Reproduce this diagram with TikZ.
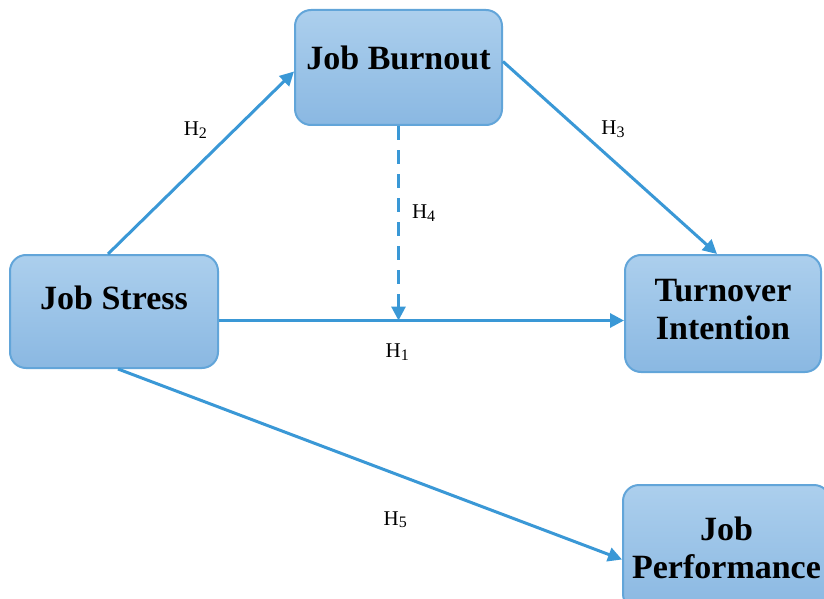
\documentclass[tikz,border=0pt]{standalone}
\usepackage{fontspec}
\setmainfont{Liberation Serif}
\usepackage{xcolor}
\usepackage{tikz}
\usetikzlibrary{arrows.meta}

\definecolor{boxtop}{RGB}{172,207,237}
\definecolor{boxbot}{RGB}{138,184,226}
\definecolor{boxline}{RGB}{98,165,217}
\definecolor{arrowblue}{RGB}{58,152,214}

\newcommand{\boxfont}{\fontsize{17}{19}\selectfont\bfseries}
\newcommand{\hypfont}{\fontsize{10.5}{12}\selectfont}
\newcommand{\hyp}[1]{H\raisebox{-0.3ex}{\fontsize{8}{9}\selectfont #1}}

\begin{document}
\begin{tikzpicture}[
        x=0.5pt, y=-0.5pt,
        box/.style={rectangle, draw=boxline, line width=1pt, rounded corners=8pt,
                     top color=boxtop, bottom color=boxbot, inner sep=0pt,
                     align=center, font=\boxfont, text=black},
        arrow/.style={-{Triangle[length=7pt, width=7pt]}, line width=1.5pt, draw=arrowblue},
        hyp/.style={font=\hypfont, text=black, inner sep=1pt}
    ]
        \useasboundingbox (0,0) rectangle (824,599);

        % Nodes
        \node[box, minimum width=103.5pt, minimum height=57.5pt, text depth=10pt]
            (burnout) at (398.5,67.5) {Job Burnout};
        \node[box, minimum width=104pt, minimum height=56.5pt, text depth=13.5pt]
            (stress) at (114,311.5) {Job Stress};
        \node[box, minimum width=98pt, minimum height=58.5pt, text depth=4.5pt]
            (turnover) at (723,313.5) {Turnover\\Intention};
        \node[box, minimum width=103.5pt, minimum height=62.5pt]
            (perf) at (726.5,547.5) {Job\\Performance};

        % Arrows
        \path ([yshift=-4.5pt]stress.east) coordinate (h1start);
        \draw[arrow] (h1start) -- node[hyp, pos=0.44, below=10pt] {\hyp{1}} (h1start -| turnover.west);
        \draw[arrow] ([xshift=-3pt]stress.north) -- node[hyp, pos=0.68, left=12pt] {\hyp{2}} ([yshift=-2pt]burnout.west);
        \draw[arrow] ([yshift=3pt]burnout.east) -- node[hyp, pos=0.35, right=10pt] {\hyp{3}} ([xshift=-3pt]turnover.north);
        \draw[arrow, dashed, dash pattern=on 7pt off 5pt] (burnout.south) -- node[hyp, pos=0.45, right=5pt] {\hyp{4}} (burnout.south |- h1start);
        \draw[arrow] ([xshift=2pt]stress.south) -- node[hyp, pos=0.55, below=17pt] {\hyp{5}} ([yshift=-6pt]perf.west);
    \end{tikzpicture}
\end{document}
